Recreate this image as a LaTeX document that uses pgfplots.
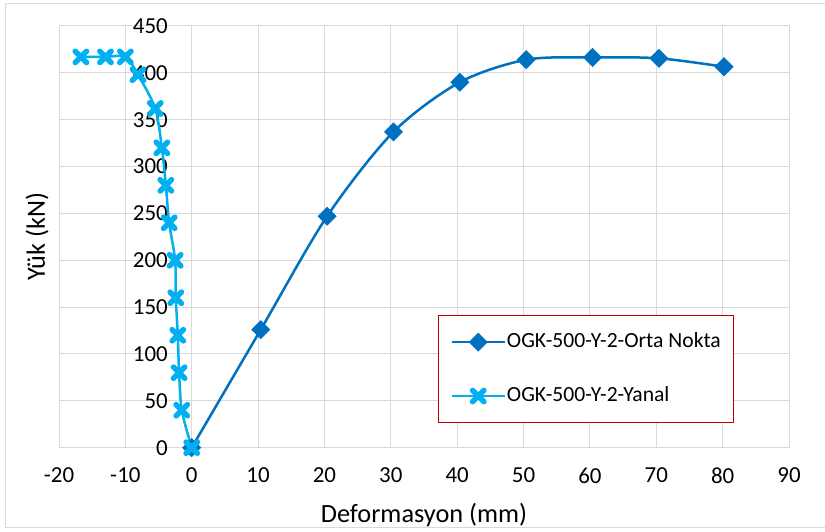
\documentclass[border=0pt]{standalone}
\usepackage{pgfplots}
\pgfplotsset{compat=1.18}
\usepackage{fontspec}
\setmainfont{Carlito}
\definecolor{orta}{RGB}{0,112,192}
\definecolor{yanal}{RGB}{0,176,240}
\definecolor{gridc}{RGB}{217,217,217}
\definecolor{legred}{RGB}{192,0,0}
\pgfplotsset{
  legend image code/.code={%
    \draw[mark repeat=2,mark phase=2,#1] plot coordinates {(0bp,0bp) (26.5bp,0bp) (53bp,0bp)};%
  }
}
\begin{document}
\begin{tikzpicture}[x=1bp,y=1bp]
\path[use as bounding box] (0,0) rectangle (825,532);
\draw[gridc, line width=1bp] (826,528) -- (5,528) -- (5,4) -- (826,4);
\begin{axis}[
  at={(59bp,84.3bp)}, anchor=south west,
  scale only axis, width=730bp, height=421.7bp,
  xmin=-20, xmax=90, ymin=0, ymax=450,
  xtick={-20,-10,...,90}, ytick={0,50,...,450},
  grid=major, grid style={gridc, line width=1bp},
  axis line style={gridc, line width=1bp},
  major tick length=0pt,
  /pgf/number format/assume math mode=true,
  tick label style={font=\fontsize{23}{27}\selectfont, text=black},
  yticklabel style={anchor=east, inner sep=0pt, xshift=109bp},
  xticklabel style={anchor=north, inner sep=0pt, yshift=-20bp},
  xlabel={Deformasyon (mm)}, ylabel={Yük (kN)},
  label style={font=\fontsize{26.4}{31}\selectfont},
  xlabel style={at={(axis description cs:0.5,0)}, anchor=base, yshift=-75.3bp},
  ylabel style={at={(axis description cs:-0.0192,0.5)}, anchor=base, rotate=0},
  legend cell align=left,
  legend style={at={(rel axis cs:0.519,0.3147)}, anchor=north west,
    draw=legred, line width=1.2bp, font=\fontsize{21.7}{26}\selectfont,
    inner xsep=12bp, inner ysep=15bp, row sep=31bp,
    nodes={inner sep=1bp, text height=16bp, text depth=5bp}},
]
\addplot[orta, line width=2.5bp, smooth,
  mark=square*, mark size=5.5bp, mark options={rotate=45, solid, fill=orta}]
  coordinates {(0,0) (10.4,126) (20.4,247) (30.4,337) (40.4,390) (50.4,414) (60.4,416.5) (70.4,415.5) (80.2,406.5)};
\addlegendentry{OGK-500-Y-2-Orta Nokta}
\addplot[yanal, line width=2.5bp, smooth,
  mark=x, mark size=8bp, mark options={line width=5.5bp, line cap=round, solid}]
  coordinates {(0,0) (-1.5,40) (-1.9,80) (-2.1,120) (-2.4,160) (-2.5,200) (-3.4,240) (-3.9,280) (-4.5,320) (-5.5,362) (-8.1,398) (-10,417) (-13,417) (-16.7,417)};
\addlegendentry{OGK-500-Y-2-Yanal}
\end{axis}
\end{tikzpicture}
\end{document}
